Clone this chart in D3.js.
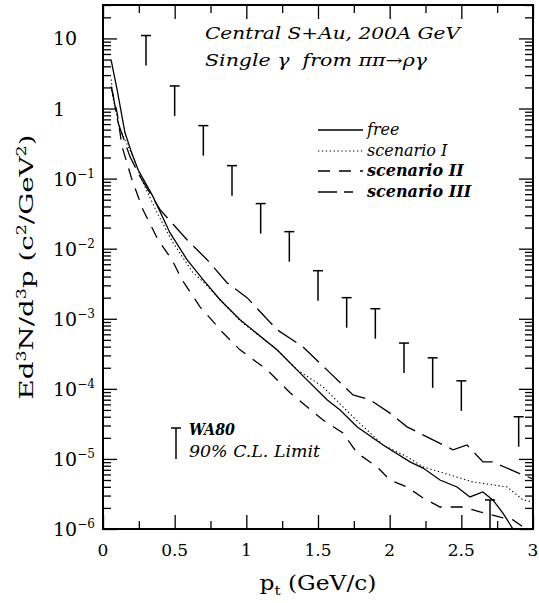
<!DOCTYPE html>
<html>
<head>
<meta charset="utf-8">
<script src="https://cdn.jsdelivr.net/npm/d3@7"></script>
<style>
  body { margin: 0; background: #fff; }
  svg { display: block; }
  text { font-family: "DejaVu Serif", serif; fill: #000; }
  .tick line { stroke: #000; stroke-width: 1.3; }
</style>
</head>
<body>
<div id="chart"></div>
<script>
/* curves: [pt, Ed3N/d3p] */
var free = [[0.056,5.0],[0.098,1.87],[0.153,0.454],[0.2,0.233],[0.244,0.135],[0.349,0.0553],[0.467,0.0169],
  [0.586,0.00697],[0.698,0.00361],[0.816,0.00187],[0.956,9.7e-4],[1.214,3.6e-4],[1.374,1.69e-4],[1.563,6.97e-5],
  [1.654,5.0e-5],[1.772,2.87e-5],[1.954,1.58e-5],[2.142,9.06e-6],[2.233,7.4e-6],[2.351,5.0e-6],[2.47,3.98e-6],
  [2.56,2.87e-6],[2.65,3.38e-6],[2.72,2.6e-6],[2.79,1.69e-6],[2.86,1.0e-6],[2.92,5.5e-7]];
var scen1 = [[0.058,2.6],[0.07,1.4],[0.119,0.5],[0.209,0.206],[0.279,0.0877],[0.377,0.0327],[0.488,0.0122],
  [0.628,0.00454],[0.698,0.0034],[0.956,9.4e-4],[1.214,3.6e-4],[1.354,1.87e-4],[1.535,1.07e-4],[1.744,3.98e-5],
  [1.954,1.58e-5],[2.121,1.07e-5],[2.233,7.7e-6],[2.47,5.5e-6],[2.58,4.7e-6],[2.82,3.98e-6],[2.93,2.6e-6],[3.0,2.43e-6]];
var scen2 = [[0.056,2.06],[0.098,0.877],[0.133,0.286],[0.202,0.0968],[0.279,0.036],[0.384,0.0134],[0.481,0.00697],
  [0.551,0.0036],[0.677,0.00148],[0.837,6.3e-4],[0.956,3.6e-4],[1.144,1.87e-4],[1.305,8.8e-5],[1.535,3.6e-5],
  [1.674,2.35e-5],[1.772,1.22e-5],[1.912,7.7e-6],[2.002,5.0e-6],[2.121,3.98e-6],[2.233,2.77e-6],[2.351,2.06e-6],
  [2.512,2.06e-6],[2.63,1.75e-6],[2.77,1.48e-6],[2.86,1.35e-6],[2.93,1.07e-6],[2.98,8.2e-7]];
var scen3 = [[0.063,1.87],[0.105,0.63],[0.188,0.206],[0.258,0.107],[0.398,0.036],[0.586,0.0134],[0.726,0.00697],
  [0.865,0.00327],[1.005,0.002],[1.214,6.97e-4],[1.395,3.98e-4],[1.584,1.69e-4],[1.744,8.2e-5],[1.863,6.97e-5],
  [2.002,4.5e-5],[2.121,2.87e-5],[2.302,1.87e-5],[2.442,1.35e-5],[2.54,1.58e-5],[2.651,9.06e-6],[2.72,9.06e-6],
  [2.93,5.9e-6],[3.0,5.2e-6]];

/* WA80 90% C.L. upper limits */
var limPt  = [0.3,0.5,0.7,0.9,1.1,1.3,1.5,1.7,1.9,2.1,2.3,2.5,2.7,2.9];
var limVal = [11,2.1,0.57,0.153,0.044,0.0175,0.00485,0.002,0.00139,4.5e-4,2.77e-4,1.3e-4,2.6e-6,4e-5];

var xTicks = [0,0.5,1,1.5,2,2.5,3];
var xLabels = ["0","0.5","1","1.5","2","2.5","3"];
var yDecades = [1e1,1,1e-1,1e-2,1e-3,1e-4,1e-5,1e-6];
var yExp = ["", "", "\u22121","\u22122","\u22123","\u22124","\u22125","\u22126"];
var yBase = ["10","1","10","10","10","10","10","10"];

var series = [
  {name:"free", data:free, dash:null, width:1.3, weight:"normal"},
  {name:"scenario I", data:scen1, dash:"1.3,2.6", width:1.1, weight:"normal"},
  {name:"scenario II", data:scen2, dash:"12,9", width:1.3, weight:"bold"},
  {name:"scenario III", data:scen3, dash:"22,8", width:1.3, weight:"bold"}
];

var W = 539, H = 603;
var L = 103, R = 533, T = 5, B = 529;

var svg = d3.select("#chart").append("svg").attr("width", W).attr("height", H);

var x = d3.scaleLinear().domain([0,3]).range([L,R]);
var y = d3.scaleLog().domain([1e-6,30]).range([B,T]);

// minor tick values
var xMinor = d3.range(0.25,3,0.5);
var yMinor = [];
for (var k=-6;k<=1;k++){
  for (var m=2;m<=9;m++){
    var v = m*Math.pow(10,k);
    if (v<30.01) yMinor.push(v);
  }
}

function ticks(axis, vals, size, tr){
  var g = svg.append("g").attr("transform", tr)
    .call(axis.tickValues(vals).tickSizeInner(-size).tickSizeOuter(0).tickFormat(""));
  g.select(".domain").remove();
}
ticks(d3.axisBottom(x), xTicks, 14, "translate(0,"+B+")");
ticks(d3.axisBottom(x), xMinor, 8, "translate(0,"+B+")");
ticks(d3.axisTop(x), xTicks, 14, "translate(0,"+T+")");
ticks(d3.axisTop(x), xMinor, 8, "translate(0,"+T+")");
ticks(d3.axisLeft(y), yDecades, 14, "translate("+L+",0)");
ticks(d3.axisLeft(y), yMinor, 8, "translate("+L+",0)");
ticks(d3.axisRight(y), yDecades, 14, "translate("+R+",0)");
ticks(d3.axisRight(y), yMinor, 8, "translate("+R+",0)");

svg.append("rect").attr("x",L).attr("y",T).attr("width",R-L).attr("height",B-T)
  .attr("fill","none").attr("stroke","#000").attr("stroke-width",2);

// tick labels
svg.selectAll(".xlab").data(xTicks).enter().append("text")
  .attr("class","xlab")
  .attr("x", function(d){ return x(d); })
  .attr("y", 556)
  .attr("text-anchor","middle")
  .style("font-size","17px")
  .text(function(d,i){ return xLabels[i]; });

var yl = svg.selectAll(".ylab").data(yDecades).enter().append("text")
  .attr("class","ylab")
  .attr("x", 53)
  .attr("y", function(d){ return y(d)+7; })
  .style("font-size","19px");
yl.append("tspan").text(function(d,i){ return yBase[i]; });
yl.append("tspan").attr("dy",-8).style("font-size","12px").text(function(d,i){ return yExp[i]; });

// axis titles
var xt = svg.append("text").attr("x",(L+R)/2).attr("y",590).attr("text-anchor","middle")
  .style("font-size","20px").attr("textLength",117).attr("lengthAdjust","spacingAndGlyphs");
xt.append("tspan").text("p");
xt.append("tspan").attr("dy",5).style("font-size","13px").text("t");
xt.append("tspan").attr("dy",-5).text(" (GeV/c)");

var yt = svg.append("text").attr("transform","translate(33,"+((T+B)/2)+") rotate(-90)")
  .attr("text-anchor","middle").style("font-size","19px")
  .attr("textLength",265).attr("lengthAdjust","spacingAndGlyphs");
yt.append("tspan").text("Ed");
yt.append("tspan").attr("dy",-7).style("font-size","12px").text("3");
yt.append("tspan").attr("dy",7).text("N/d");
yt.append("tspan").attr("dy",-7).style("font-size","12px").text("3");
yt.append("tspan").attr("dy",7).text("p (c");
yt.append("tspan").attr("dy",-7).style("font-size","12px").text("2");
yt.append("tspan").attr("dy",7).text("/GeV");
yt.append("tspan").attr("dy",-7).style("font-size","12px").text("2");
yt.append("tspan").attr("dy",7).text(")");

// curves
svg.append("clipPath").attr("id","clip").append("rect")
  .attr("x",L).attr("y",T).attr("width",R-L).attr("height",B-T);

var line = d3.line()
  .x(function(d){ return x(d[0]); })
  .y(function(d){ return y(d[1]); });

var plot = svg.append("g").attr("clip-path","url(#clip)");
plot.selectAll(".curve").data(series).enter().append("path")
  .attr("class","curve")
  .attr("d", function(d){ return line(d.data); })
  .attr("fill","none")
  .attr("stroke","#000")
  .attr("stroke-width", function(d){ return d.width; })
  .attr("stroke-dasharray", function(d){ return d.dash; });

// WA80 limits
var lim = plot.selectAll(".lim").data(limPt).enter().append("g").attr("class","lim");
lim.append("line")
  .attr("x1", function(d){ return x(d); }).attr("x2", function(d){ return x(d); })
  .attr("y1", function(d,i){ return y(limVal[i]); })
  .attr("y2", function(d,i){ return y(limVal[i])+30; })
  .attr("stroke","#000").attr("stroke-width",1.5);
lim.append("line")
  .attr("x1", function(d){ return x(d)-5; }).attr("x2", function(d){ return x(d)+5; })
  .attr("y1", function(d,i){ return y(limVal[i]); })
  .attr("y2", function(d,i){ return y(limVal[i]); })
  .attr("stroke","#000").attr("stroke-width",1.5);

// annotations
svg.append("text").attr("x",205).attr("y",39)
  .style("font-size","16px").style("font-style","italic")
  .attr("textLength",255).attr("lengthAdjust","spacingAndGlyphs")
  .text("Central S+Au, 200A GeV");
svg.append("text").attr("x",205).attr("y",66)
  .style("font-size","16px").style("font-style","italic").style("white-space","pre")
  .attr("textLength",222).attr("lengthAdjust","spacingAndGlyphs")
  .text("Single \u03b3  from \u03c0\u03c0\u2192\u03c1\u03b3");

// legend
var lg = svg.selectAll(".leg").data(series).enter().append("g")
  .attr("class","leg")
  .attr("transform", function(d,i){ return "translate(318,"+[130,151,171,192][i]+")"; });
lg.append("line")
  .attr("x1",0).attr("x2", function(d,i){ return i==3 ? 35 : 45; })
  .attr("stroke","#000")
  .attr("stroke-width", function(d){ return d.width; })
  .attr("stroke-dasharray", function(d,i){ return i==3 ? "19,7" : d.dash; });
lg.append("text").attr("x",49).attr("y",5)
  .style("font-size","16px").style("font-style","italic")
  .style("font-weight", function(d){ return d.weight; })
  .text(function(d){ return d.name; });

// WA80 key
svg.append("line").attr("x1",176).attr("x2",176).attr("y1",428).attr("y2",459)
  .attr("stroke","#000").attr("stroke-width",1.5);
svg.append("line").attr("x1",171).attr("x2",181).attr("y1",428).attr("y2",428)
  .attr("stroke","#000").attr("stroke-width",1.5);
svg.append("text").attr("x",189).attr("y",435)
  .style("font-size","16px").style("font-style","italic").style("font-weight","bold")
  .attr("textLength",46).attr("lengthAdjust","spacingAndGlyphs")
  .text("WA80");
svg.append("text").attr("x",189).attr("y",457)
  .style("font-size","16px").style("font-style","italic")
  .attr("textLength",131).attr("lengthAdjust","spacingAndGlyphs")
  .text("90% C.L. Limit");
</script>
</body>
</html>
